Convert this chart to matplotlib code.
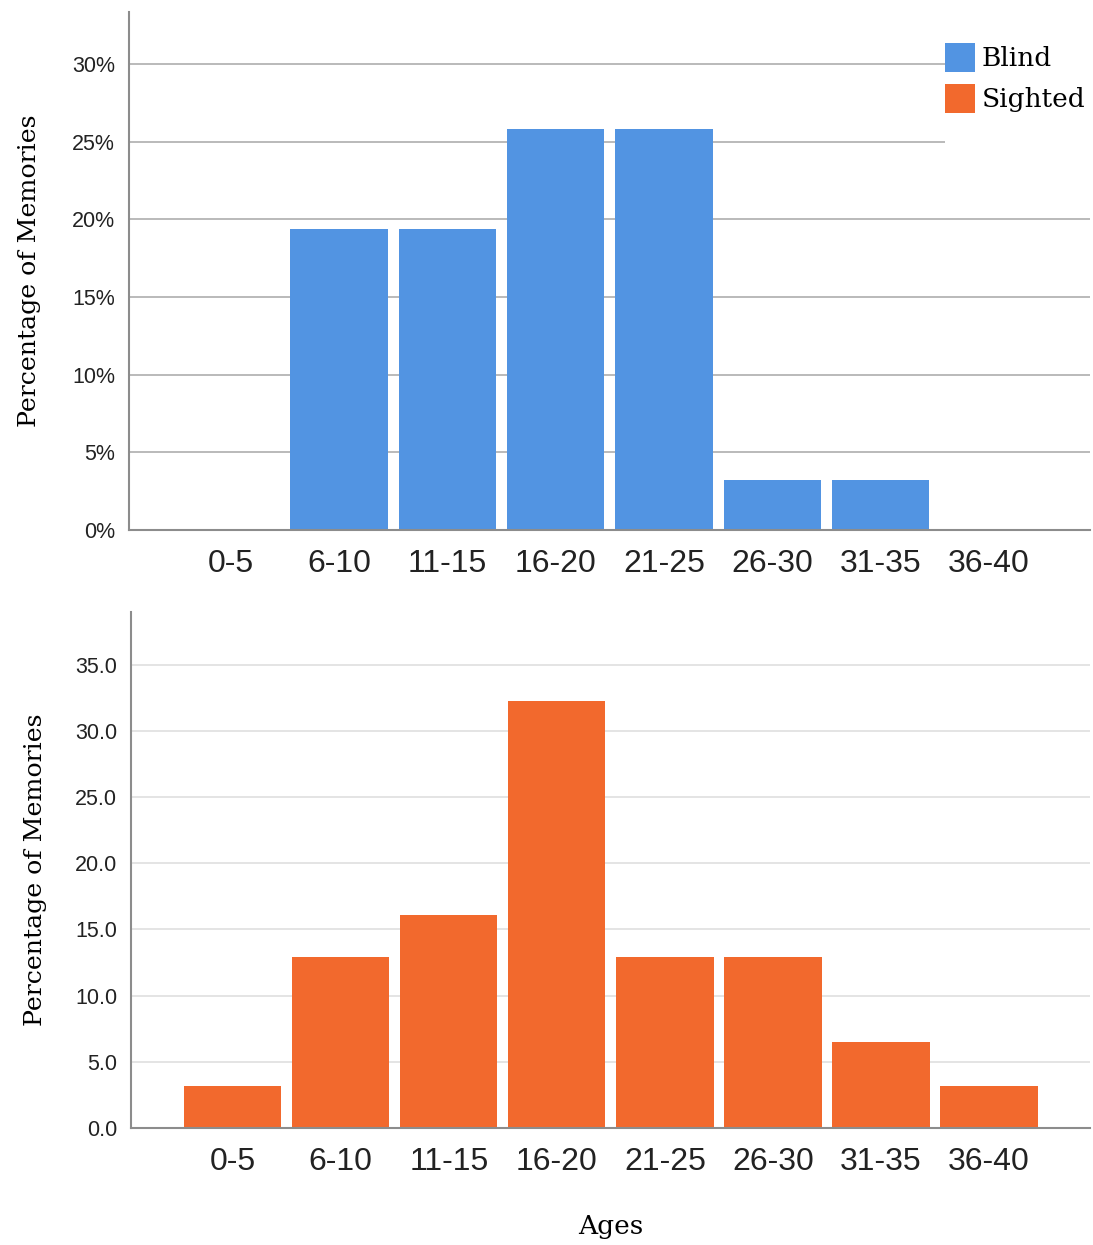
import matplotlib.pyplot as plt
import numpy as np
from matplotlib.patches import Patch, Rectangle

# Data
ages = ["0-5", "6-10", "11-15", "16-20", "21-25", "26-30", "31-35", "36-40"]
blind_pct = [0.0, 19.4, 19.4, 25.8, 25.8, 3.2, 3.2, 0.0]
sighted_pct = [3.2, 12.9, 16.1, 32.3, 12.9, 12.9, 6.5, 3.2]

blind_color = "#5294e2"
sighted_color = "#f2692d"
serif = "DejaVu Serif"
sans = "Liberation Sans"

fig = plt.figure(figsize=(10.93, 12.45), dpi=100)
ax_top = fig.add_axes([0.118, 0.5743, 0.879, 0.416])
ax_bot = fig.add_axes([0.1199, 0.094, 0.877, 0.4145])

x = np.arange(len(ages))


def style_axes(ax, grid_color):
    for side in ["top", "right"]:
        ax.spines[side].set_visible(False)
    for side in ["left", "bottom"]:
        ax.spines[side].set_color("#8c8c8c")
        ax.spines[side].set_linewidth(1.5)
    ax.set_axisbelow(True)
    ax.yaxis.grid(True, color=grid_color, linewidth=1.3)
    ax.tick_params(axis="both", length=0)
    ax.tick_params(axis="x", pad=14)
    ax.tick_params(axis="y", pad=10)
    ax.set_xticks(x)
    ax.set_xticklabels(ages, fontsize=23, family=sans, color="#222222")
    for lbl in ax.get_yticklabels():
        lbl.set_fontsize(15.5)
        lbl.set_family(sans)
        lbl.set_color("#222222")
    ax.set_xlim(-0.94, 7.93)


# Top: blind
ax_top.bar(x, blind_pct, width=0.9, color=blind_color, zorder=2)
ax_top.set_ylim(0, 33.35)
ax_top.set_yticks([0, 5, 10, 15, 20, 25, 30])
ax_top.set_yticklabels([f"{v}%" for v in [0, 5, 10, 15, 20, 25, 30]])
style_axes(ax_top, "#b4b4b4")
ax_top.set_ylabel("Percentage of Memories", family=serif, fontsize=18.2, labelpad=22)

# white block behind the legend hides the gridlines there
ax_top.add_patch(Rectangle((0.849, 0.72), 0.151, 0.26, transform=ax_top.transAxes,
                           facecolor="white", edgecolor="none", zorder=1.5))
handles = [Patch(facecolor=blind_color, label="Blind"),
           Patch(facecolor=sighted_color, label="Sighted")]
ax_top.legend(handles=handles, loc="upper left", bbox_to_anchor=(0.849, 0.94), frameon=False,
              prop={"family": serif, "size": 19}, handlelength=1.14, handleheight=1.3,
              handletextpad=0.27, labelspacing=0.45, borderpad=0, borderaxespad=0)

# Bottom: sighted
ax_bot.bar(x, sighted_pct, width=0.9, color=sighted_color, zorder=2)
ax_bot.set_ylim(0, 39.0)
ax_bot.set_yticks(np.arange(0, 36, 5))
ax_bot.set_yticklabels([f"{v:.1f}" for v in np.arange(0, 36, 5)])
style_axes(ax_bot, "#e2e2e2")
ax_bot.set_ylabel("Percentage of Memories", family=serif, fontsize=18.2, labelpad=20)
ax_bot.set_xlabel("Ages", family=serif, fontsize=19, labelpad=26)

fig.savefig("out.png", dpi=100)
